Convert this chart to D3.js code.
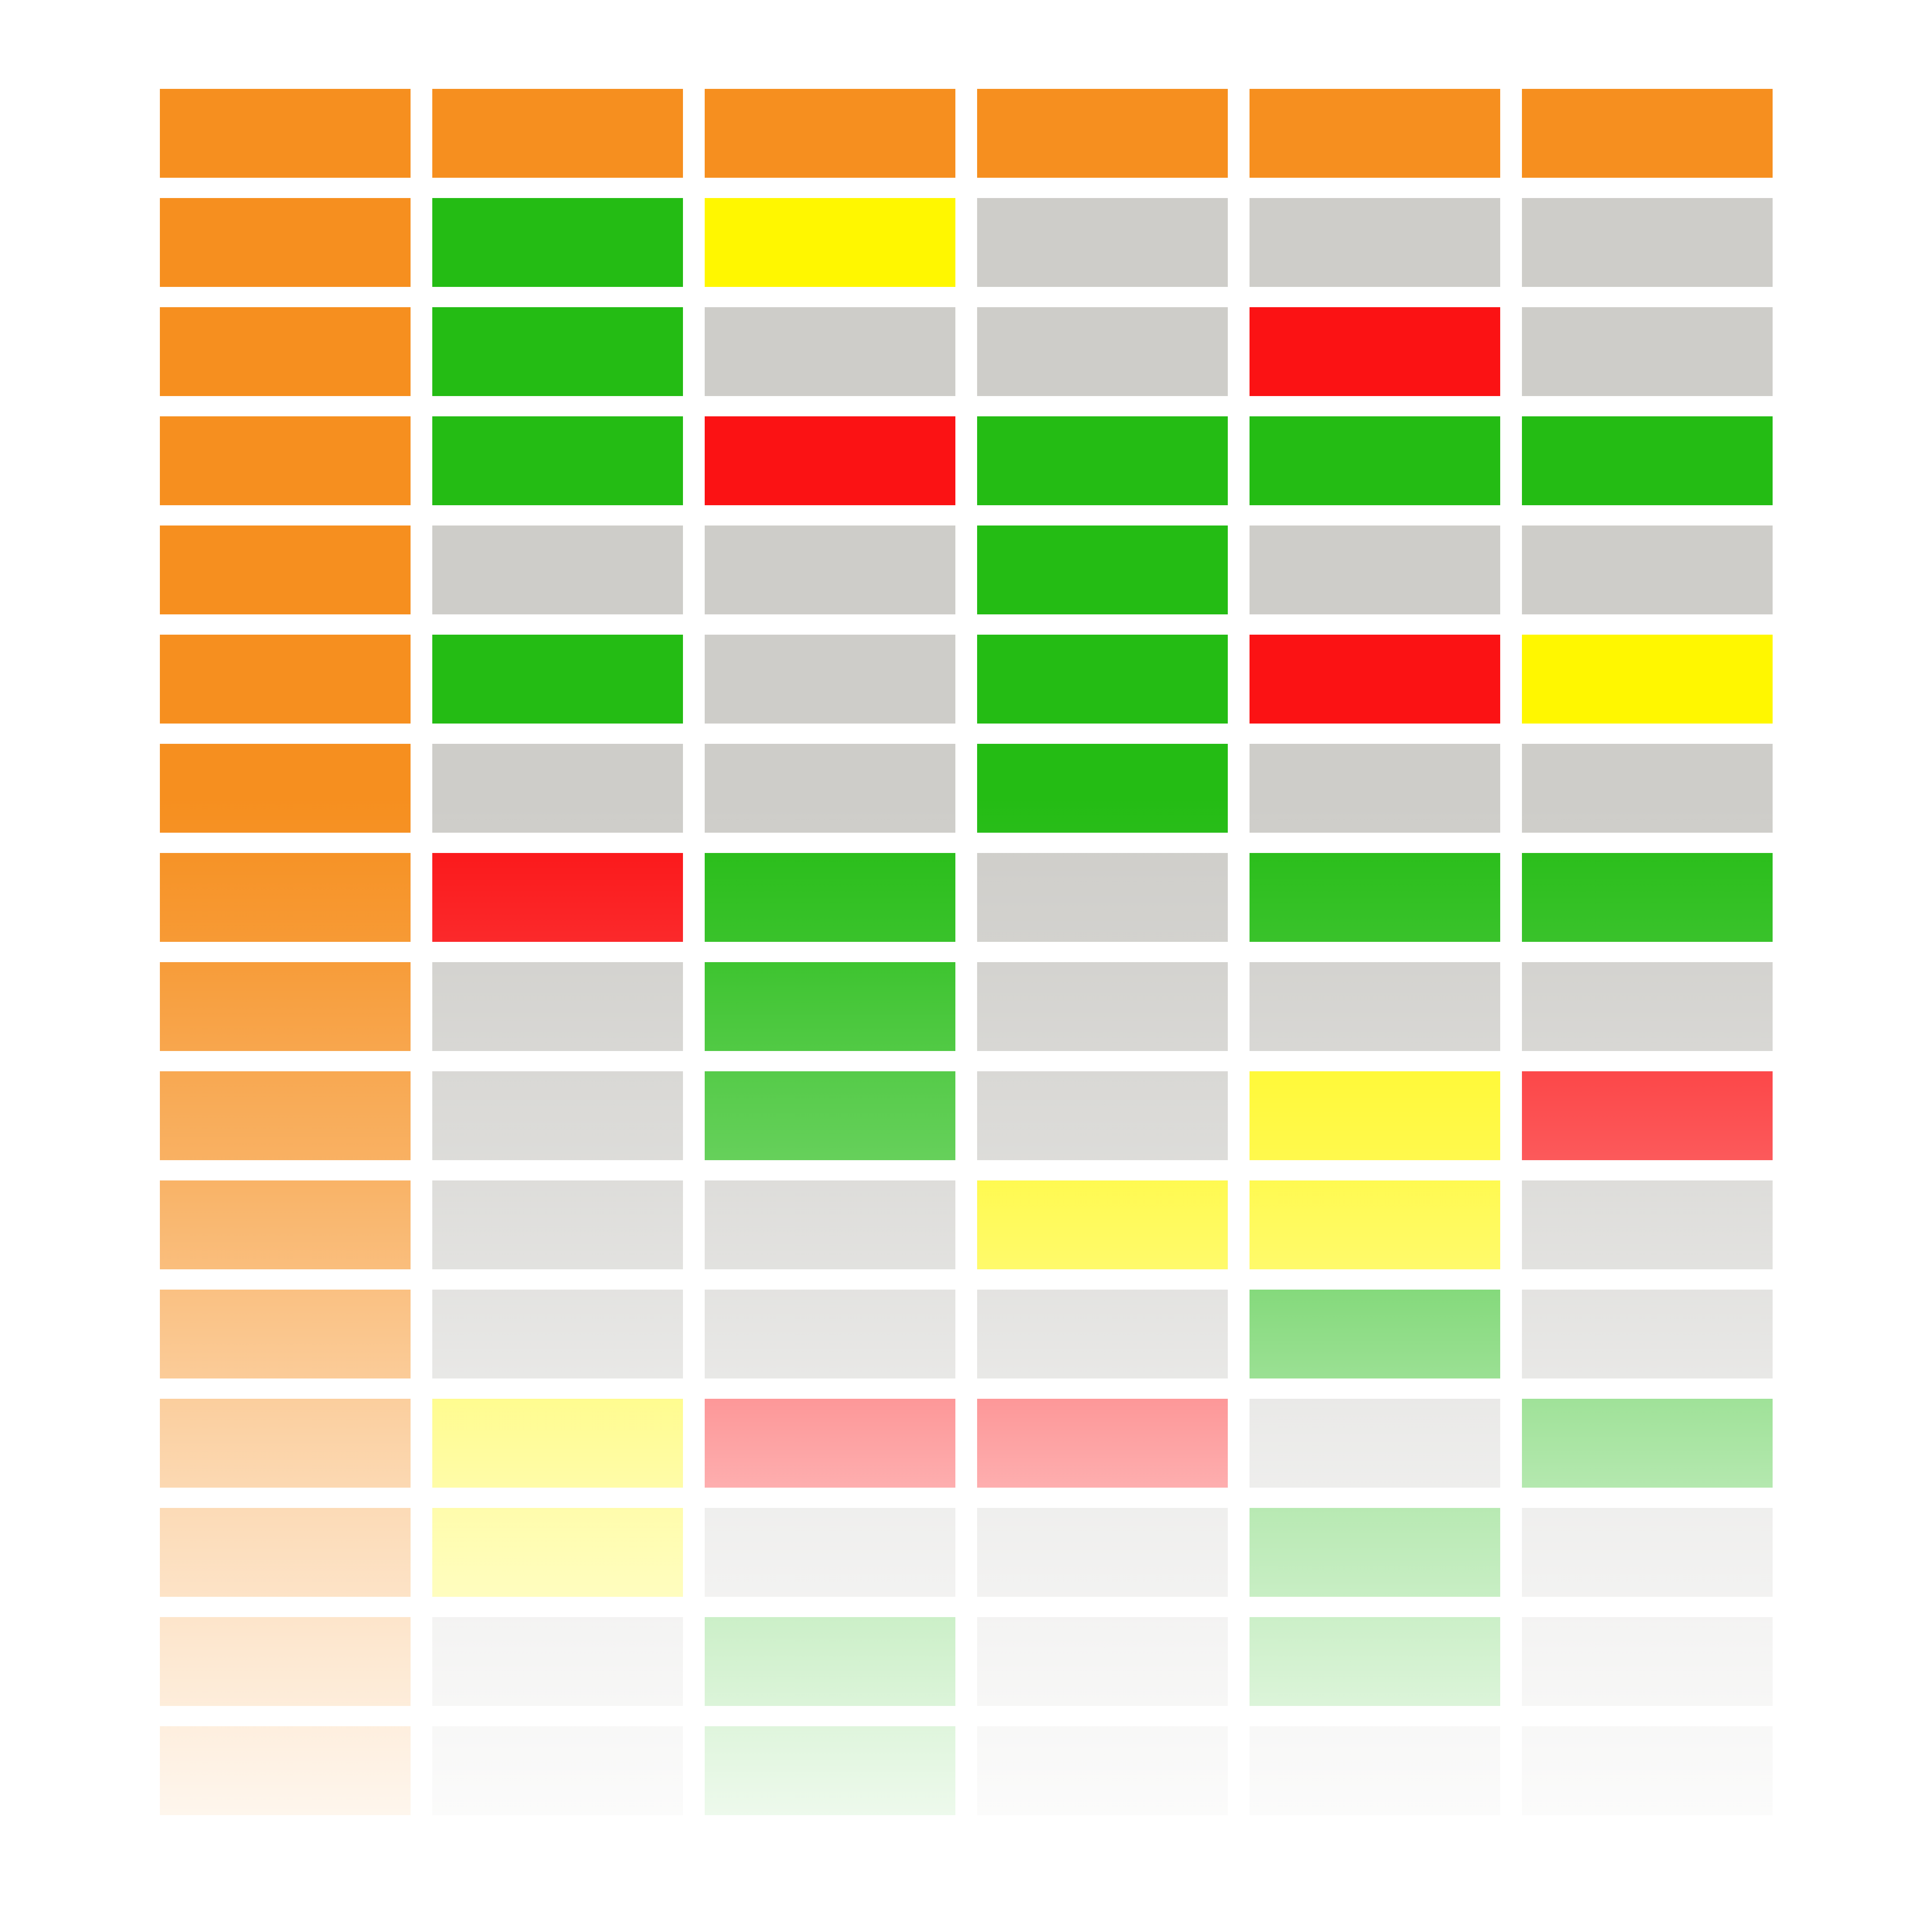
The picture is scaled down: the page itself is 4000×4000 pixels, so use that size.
<!DOCTYPE html>
<html>
<head>
<meta charset="utf-8">
<script src="https://cdn.jsdelivr.net/npm/d3@7"></script>
<style>
  html, body { margin: 0; padding: 0; background: #ffffff; }
  svg { display: block; }
</style>
</head>
<body>
<script>
// ---- data ----
const rows = ["r1","r2","r3","r4","r5","r6","r7","r8","r9","r10","r11","r12","r13","r14","r15","r16"];
const columns = ["c1","c2","c3","c4","c5","c6"];
// status per row, one array per column
const c1 = ["head","head","head","head","head","head","head","head","head","head","head","head","head","head","head","head"];
const c2 = ["head","ok","ok","ok","none","ok","none","fail","none","none","none","none","warn","warn","none","none"];
const c3 = ["head","warn","none","fail","none","none","none","ok","ok","ok","none","none","fail","none","ok","ok"];
const c4 = ["head","none","none","ok","ok","ok","ok","none","none","none","warn","none","fail","none","none","none"];
const c5 = ["head","none","fail","ok","none","fail","none","ok","none","warn","warn","ok","none","ok","ok","none"];
const c6 = ["head","none","none","ok","none","warn","none","ok","none","fail","none","none","ok","none","none","none"];
const statusKeys = ["head","ok","warn","fail","none"];
const statusColors = ["#F68F1F","#24BC14","#FFF700","#FB1214","#CECDC9"];
// fade (white veil) stops: [y position fraction of grid, opacity]
const fadeOffsets = [0.00, 0.41, 0.443, 0.495, 0.558, 0.633, 0.748, 0.811, 0.874, 0.937, 1.00];
const fadeOpacity = [0.00, 0.00, 0.034, 0.10, 0.21, 0.32, 0.545, 0.66, 0.75, 0.84, 0.92];

(function () {
  const cols = [c1, c2, c3, c4, c5, c6];
  const cells = [];
  columns.forEach((c, ci) => rows.forEach((r, ri) => cells.push({col: c, row: r, status: cols[ci][ri]})));

  const W = 4000, H = 4000;
  const gLeft = 331, gRight = 3670, gTop = 184, gBottom = 3758;

  const svg = d3.select("body").append("svg").attr("width", W).attr("height", H);
  svg.append("rect").attr("width", W).attr("height", H).attr("fill", "#ffffff");

  const x = d3.scaleBand().domain(columns).range([gLeft, gRight]).paddingInner(45/564).paddingOuter(0);
  const y = d3.scaleBand().domain(rows).range([gTop, gBottom]).paddingInner(42/226).paddingOuter(0);
  const color = d3.scaleOrdinal().domain(statusKeys).range(statusColors);

  svg.append("g").selectAll("rect").data(cells).join("rect")
    .attr("x", d => x(d.col))
    .attr("y", d => y(d.row))
    .attr("width", x.bandwidth())
    .attr("height", y.bandwidth())
    .attr("fill", d => color(d.status))
    .attr("shape-rendering", "crispEdges");

  const defs = svg.append("defs");
  const grad = defs.append("linearGradient").attr("id", "fade")
    .attr("gradientUnits", "userSpaceOnUse")
    .attr("x1", 0).attr("x2", 0).attr("y1", gTop).attr("y2", gBottom);
  grad.selectAll("stop").data(fadeOffsets).join("stop")
    .attr("offset", d => d)
    .attr("stop-color", "#ffffff")
    .attr("stop-opacity", (d, i) => fadeOpacity[i]);

  svg.append("rect")
    .attr("x", gLeft - 5).attr("y", gTop)
    .attr("width", gRight - gLeft + 10).attr("height", gBottom - gTop)
    .attr("fill", "url(#fade)");
})();
</script>
</body>
</html>
